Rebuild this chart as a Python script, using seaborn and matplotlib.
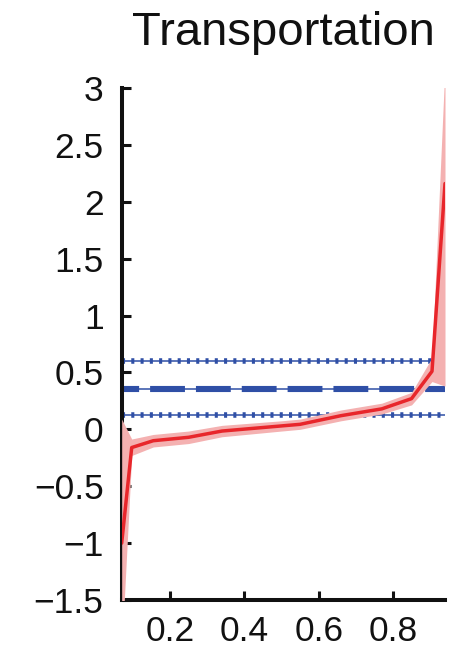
import matplotlib
matplotlib.use("Agg")
import matplotlib.pyplot as plt
import numpy as np
import pandas as pd
import seaborn as sns

# Quantile positions and the estimated effect at each
quantile = [0.07, 0.097, 0.155, 0.25, 0.34, 0.50, 0.55, 0.66, 0.77, 0.85, 0.905, 0.94]
effect = [-1.00, -0.16, -0.10, -0.07, -0.015, 0.03, 0.044, 0.12, 0.18, 0.27, 0.51, 2.16]
ci_low = [-1.95, -0.23, -0.155, -0.125, -0.065, -0.015, 0.0, 0.075, 0.135, 0.215, 0.42, 0.38]
ci_high = [0.09, -0.085, -0.045, -0.015, 0.035, 0.075, 0.09, 0.17, 0.23, 0.325, 0.63, 3.20]

# Reference estimate (dashed) and its band (dotted)
ref_mean = 0.353
ref_low = 0.124
ref_high = 0.597

title = "Transportation"
xticks = [0.2, 0.4, 0.6, 0.8]
yticks = [-1.5, -1, -0.5, 0, 0.5, 1, 1.5, 2, 2.5, 3]

sns.set_style("ticks")
plt.rcParams["font.family"] = ["Liberation Sans", "DejaVu Sans"]
plt.rcParams["axes.unicode_minus"] = True

df = pd.DataFrame({"quantile": quantile, "effect": effect,
                   "low": ci_low, "high": ci_high})

fig = plt.figure(figsize=(4.5, 6.49), dpi=100)
ax = fig.add_axes([0.2704, 0.0755, 0.7185, 0.7889])

blue = "#2f4fa6"
red = "#e8262b"
pink = "#f4b1b1"

# Thin solid guides beneath the reference lines
for yv in (ref_mean, ref_low, ref_high):
    ax.axhline(yv, color=blue, lw=1.1, zorder=1)
# Thick dashed reference estimate
ax.axhline(ref_mean, color=blue, lw=4.4, zorder=2,
           linestyle=(2.9, (5.7, 1.8)), dash_capstyle="butt")
# Dotted band limits
for yv in (ref_low, ref_high):
    ax.axhline(yv, color=blue, lw=4.0, zorder=2,
               linestyle=(0, (0.55, 1.12)), dash_capstyle="butt")

ax.fill_between(df["quantile"], df["low"], df["high"], color=pink,
                lw=0, zorder=3)
sns.lineplot(data=df, x="quantile", y="effect", color=red, lw=2.5,
             ax=ax, zorder=4)

ax.set_xlim(0.07, 0.94)
ax.set_ylim(-1.5, 3.0)
ax.set_xticks(xticks)
ax.set_xticklabels([f"{v:g}" for v in xticks])
ax.set_yticks(yticks)
ax.set_yticklabels([f"{v:g}".replace("-", "\u2212") for v in yticks])
ax.set_xlabel("")
ax.set_ylabel("")

ax.tick_params(axis="both", direction="in", length=6.5, width=2.2,
               labelsize=25.5, colors="#111111")
ax.tick_params(axis="y", pad=13)
ax.tick_params(axis="x", pad=10.5)
for side in ("top", "right"):
    ax.spines[side].set_visible(False)
for side in ("left", "bottom"):
    ax.spines[side].set_linewidth(2.9)
    ax.spines[side].set_color("#111111")

ax.set_title(title, fontsize=34, color="#111111", pad=31)

fig.savefig("out.png", dpi=100)
